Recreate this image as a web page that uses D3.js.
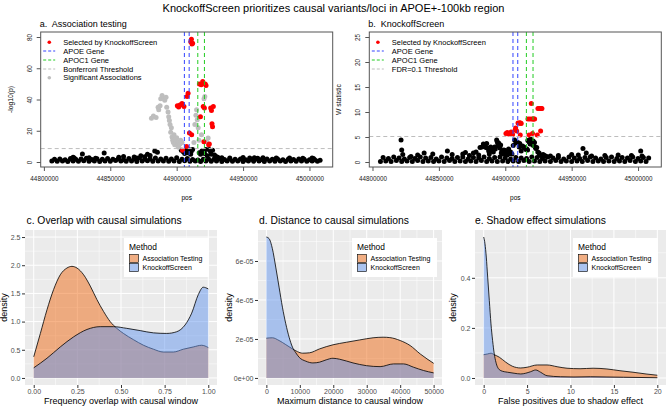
<!DOCTYPE html>
<html>
<head>
<meta charset="utf-8">
<script src="https://cdn.jsdelivr.net/npm/d3@7"></script>
<style>
  body { margin: 0; background: #fff; }
  svg { display: block; }
  svg text { font-family: "Liberation Sans", Arial, Helvetica, sans-serif; }
</style>
</head>
<body>
<svg width="667" height="406"></svg>
<script>
var svg = d3.select('svg');

// ---------- data: variants (pos in kb after 44,800,000) ----------
var bandPos = [6,8,10,12,14,16,18,20,22,24,26,28,30,32,34,36,38,40,42,44,46,48,50,52,54,56,58,60,62,64,66,68,70,72,74,76,78,80,82,84,86,88,90,92,94,96,98,100,102,104,106,108,110,112,114,116,118,120,122,124,126,128,130,132,134,136,138,140,142,144,146,148,150,152,154,156,158,160,162,164,166,168,170,172,174,176,178,180,182,184,186,188,190,192,194,196,198,200,202,204,206,208];
var bandLogp = [0.6,1.8,0.5,2.0,0.7,1.5,0.4,2.2,0.6,1.7,
  0.5,1.9,0.8,2.4,0.5,1.6,0.7,2.1,0.4,1.8,
  0.6,2.3,0.5,1.7,0.9,2.0,0.6,1.5,0.5,2.2,
  0.7,1.9,0.4,2.5,0.6,1.8,0.8,2.1,0.5,2.6,
  0.6,1.9,0.7,2.4,0.5,2.0,0.6,2.7,0.4,1.8,
  0.8,2.2,0.5,1.6,0.6,1.3,0.4,1.7,0.7,2.0,
  0.5,1.8,0.6,2.1,0.4,1.6,0.7,1.9,0.5,1.7,
  0.6,2.0,0.4,1.5,0.7,1.8,0.5,2.1,0.6,1.6,
  0.4,1.9,0.7,1.7,0.5,2.0,0.6,1.5,0.4,1.8,
  0.6,1.6,0.5,1.9,0.7,1.7,0.5,1.4,0.6,1.5,
  0.5,1.2];
var bandW = [0.1,0.9,0.2,0.7,0.1,1.0,0.3,0.8,0.1,0.6,
  0.2,0.9,0.1,0.7,0.3,1.0,0.1,0.8,0.2,0.9,
  0.1,0.6,0.2,1.0,0.1,0.8,0.3,0.7,0.1,0.9,
  0.2,1.0,0.1,0.6,0.2,0.9,0.1,0.8,0.3,1.0,
  0.1,0.7,0.2,0.9,0.1,1.0,0.2,0.8,0.1,0.6,
  0.2,0.9,0.1,0.8,0.3,0.7,0.1,1.0,0.2,0.9,
  0.1,0.7,0.2,1.0,0.1,0.8,0.3,0.9,0.1,0.6,
  0.2,1.0,0.1,0.8,0.2,0.7,0.1,0.9,0.3,1.0,
  0.1,0.8,0.2,0.6,0.1,0.9,0.2,1.0,0.1,0.7,
  0.2,0.9,0.1,0.8,0.3,1.0,0.1,0.7,0.2,0.9,
  0.1,0.8];

var varPos = [21.5,22.0,22.8,29.0,34.0,38.9,45.4,56.4,60.0,68.0,
  70.0,73.0,76.0,78.0,80.0,81.0,82.5,83.5,84.5,85.5,
  86.0,86.5,87.5,88.0,89.0,90.0,91.0,92.0,92.5,93.5,
  94.0,94.5,95.0,95.5,96.0,96.5,97.0,97.5,98.0,98.5,
  99.0,99.5,100.0,100.5,101.0,101.5,102.0,102.5,103.0,103.5,
  104.0,105.0,106.0,107.0,108.0,109.5,110.5,110.9,112.0,113.0,
  113.7,114.5,115.0,115.5,116.2,116.8,117.0,118.0,118.7,119.0,
  120.0,120.6,121.2,121.0,122.0,122.5,123.0,123.7,124.5,125.5,
  126.0,127.0,128.5,129.7,131.0,134.0,140.0,150.0,155.0,158.5,
  161.0,165.0,175.0,185.0,195.0,202.0,203.0];
var varLogp = [1.5,3.0,2.5,5.1,2.8,2.4,5.7,3.0,3.5,3.2,
  2.6,4.0,3.4,5.0,4.2,28.0,29.5,7.0,28.5,6.2,
  35.0,33.5,36.0,40.5,42.5,41.0,39.5,41.5,35.0,32.0,
  29.0,26.5,24.0,19.0,22.0,16.0,14.0,12.5,17.5,11.0,
  14.5,12.0,15.5,10.5,13.0,9.5,12.0,11.5,14.0,7.5,
  12.5,6.5,5.5,7.5,6.0,7.8,5.0,6.5,8.0,12.5,
  24.0,30.0,33.5,27.0,22.0,14.0,6.0,5.0,17.5,7.0,
  6.5,40.5,42.0,5.5,8.0,13.0,4.0,15.4,8.0,6.5,
  5.0,7.5,4.5,3.5,3.0,2.8,2.6,2.9,2.5,2.8,
  2.4,2.7,2.5,2.6,2.4,2.5,2.3];
var varW = [4.4,2.4,1.5,1.1,1.4,1.8,1.6,2.2,1.5,1.6,
  1.9,1.3,1.8,2.0,1.4,2.9,3.0,3.6,3.3,2.9,
  3.7,2.8,2.2,1.6,3.0,2.5,2.0,3.0,2.6,4.4,
  4.0,3.5,3.8,3.1,2.8,3.4,1.8,2.2,2.0,1.6,
  2.4,1.9,2.3,2.1,1.7,1.5,1.5,2.6,2.0,1.8,
  2.0,1.6,3.3,4.4,3.8,3.9,3.0,3.7,2.2,3.2,
  3.0,2.9,2.8,2.5,2.6,2.4,4.3,4.0,3.6,4.6,
  3.8,3.5,3.3,4.2,3.9,3.0,2.7,2.9,2.0,1.8,
  1.4,1.3,1.5,1.3,1.1,1.2,1.3,1.5,1.4,2.7,
  1.8,1.2,1.3,1.4,1.3,2.2,1.2];

// selected by KnockoffScreen
var selPos = [100.5,101.5,102.5,104.0,104.4,105.5,107.4,107.8,108.6,109.6,
  110.6,111.1,111.5,112.0,111.3,117.1,117.9,118.5,119.6,120.0,
  120.5,120.9,121.5,122.1,124.1,124.6,125.6,126.2,126.6,127.0,127.6];
var selLogp = [36.0,35.2,36.5,37.5,7.5,35.5,10.0,42.0,44.0,18.5,
  77.0,78.5,75.5,76.0,17.5,50.0,29.0,49.5,51.5,35.5,
  13.0,34.5,50.0,49.0,11.0,11.5,34.5,33.0,24.5,22.5,35.5];
var selW = [5.7,5.9,5.6,5.7,6.0,5.5,6.4,6.8,6.2,7.8,
  7.8,7.8,7.8,7.7,5.4,8.6,5.4,8.6,11.7,8.6,
  5.7,8.6,8.6,8.6,5.4,10.7,10.7,10.7,6.2,10.7,10.7];

var regionStart = 44800000;
var apoeGene = [44905800, 44909400];
var apoc1Gene = [44915900, 44920900];
var bonferroni = 8.6;
var fdrThreshold = 5.1;
var posTicks = [44800000, 44850000, 44900000, 44950000, 45000000];
var posLimits = [44797600, 45017500];
var logpTicks = [0, 20, 40, 60, 80];
var wTicks = [0, 5, 10, 15, 20, 25];
var legendA = ['Selected by KnockoffScreen', 'APOE Gene', 'APOC1 Gene', 'Bonferroni Threshold', 'Significant Associations'];
var legendB = ['Selected by KnockoffScreen', 'APOE Gene', 'APOC1 Gene', 'FDR=0.1 Threshold'];

// ---------- data: density curves ----------
var methods = ['Association Testing', 'KnockoffScreen'];
var overlapAssocX = [0,0.038,0.076,0.114,0.152,0.19,0.219,0.248,0.286,0.324,0.362,0.4,0.438,0.476,0.514,0.571,0.629,0.686,0.743,0.8,0.857,0.914,0.962,1.0];
var overlapAssocY = [0.375,0.79,1.21,1.57,1.83,1.95,1.98,1.95,1.83,1.63,1.39,1.18,1.0,0.88,0.79,0.68,0.58,0.51,0.46,0.46,0.51,0.55,0.58,0.54];
var overlapKnockX = [0,0.076,0.152,0.229,0.305,0.381,0.457,0.533,0.61,0.686,0.762,0.819,0.867,0.905,0.943,0.971,1.0];
var overlapKnockY = [0.18,0.35,0.55,0.73,0.86,0.91,0.91,0.88,0.84,0.80,0.79,0.82,0.94,1.15,1.48,1.61,1.58];

var distAssocX = [0,1800,3800,5800,7800,9300,10800,12900,15900,19900,23900,27900,31900,34900,36900,40000,43000,46000,48000,50000];
var distAssocY = [20.4e-6,20.6e-6,19.2e-6,17.1e-6,14.9e-6,13.5e-6,12.7e-6,12.9e-6,14.9e-6,17.0e-6,18.3e-6,19.5e-6,20.6e-6,20.9e-6,20.7e-6,19.2e-6,16.6e-6,12.3e-6,9.8e-6,7.5e-6];
var distKnockX = [0,800,1800,2800,3800,4800,5800,6800,7800,8800,9800,11800,13900,15900,17900,19900,21900,25900,29900,34000,38000,41000,44000,47000,50000];
var distKnockY = [72.3e-6,71.5e-6,66.3e-6,56.9e-6,46.6e-6,36.3e-6,27.8e-6,20.9e-6,15.8e-6,12.9e-6,10.6e-6,8.6e-6,7.7e-6,8.1e-6,9.3e-6,10.1e-6,9.6e-6,7.7e-6,6.3e-6,5.8e-6,7.2e-6,7.2e-6,5.5e-6,3.8e-6,2.6e-6];

var shadowAssocX = [0,0.46,0.84,1.22,1.8,2.55,3.3,4.27,5.0,6.17,7.3,8.46,9.6,11.1,12.6,14.2,15.7,17.2,18.7,20];
var shadowAssocY = [0.093,0.096,0.099,0.093,0.083,0.063,0.047,0.040,0.043,0.052,0.052,0.045,0.039,0.037,0.039,0.036,0.029,0.023,0.016,0.011];
var shadowKnockX = [0,0.15,0.3,0.46,0.65,0.84,1.03,1.22,1.41,1.6,2.0,2.74,3.5,4.27,4.84,5.4,6.0,6.55,7.3,8.84,10.4,12.3,14.2,16.1,20];
var shadowKnockY = [0.563,0.536,0.483,0.403,0.309,0.216,0.149,0.096,0.063,0.043,0.029,0.023,0.019,0.016,0.019,0.025,0.032,0.023,0.009,0.005,0.004,0.005,0.004,0.003,0.001];

var methodColors = ['#F06A14', '#6495ED'];

// ---------- title ----------
svg.append('text')
  .attr('x', 333.5).attr('y', 12)
  .attr('text-anchor', 'middle')
  .style('font-size', '11px')
  .text('KnockoffScreen prioritizes causal variants/loci in APOE+-100kb region');

// ---------- R style scatter panels ----------
var boxTop = 32, boxBottom = 167;

function buildPoints(valBand, valVar, valSel, threshold, showSignificant) {
  var pts = [];
  bandPos.forEach(function(p, i) {
    pts.push({pos: regionStart + p * 1000, v: valBand[i], color: 'black', order: 0});
  });
  varPos.forEach(function(p, i) {
    var sig = showSignificant && valVar[i] > threshold;
    pts.push({pos: regionStart + p * 1000, v: valVar[i], color: sig ? '#BEBEBE' : 'black', order: sig ? 1 : 0});
  });
  selPos.forEach(function(p, i) {
    pts.push({pos: regionStart + p * 1000, v: valSel[i], color: 'red', order: 2});
  });
  return pts.sort(function(a, b) { return a.order - b.order; });
}

function scatterPanel(o) {
  var x = d3.scaleLinear().domain(posLimits).range([o.left, o.left + 292]);
  var y = d3.scaleLinear().domain(o.yLimits).range([boxBottom, boxTop]);
  var g = svg.append('g');

  g.selectAll('circle')
    .data(o.points)
    .enter().append('circle')
      .attr('cx', function(d) { return x(d.pos); })
      .attr('cy', function(d) { return y(d.v); })
      .attr('r', 2.5)
      .attr('fill', function(d) { return d.color; });

  // gene boundaries
  var genes = [{b: apoeGene, c: '#3344FF'}, {b: apoc1Gene, c: '#22CC22'}];
  genes.forEach(function(gn) {
    gn.b.forEach(function(v) {
      g.append('line')
        .attr('x1', x(v)).attr('x2', x(v))
        .attr('y1', boxTop).attr('y2', boxBottom)
        .attr('stroke', gn.c).attr('stroke-width', 1)
        .attr('stroke-dasharray', '4,3');
    });
  });

  // threshold
  g.append('line')
    .attr('x1', o.left).attr('x2', o.left + 292)
    .attr('y1', y(o.threshold)).attr('y2', y(o.threshold))
    .attr('stroke', '#BDBDBD').attr('stroke-width', 1)
    .attr('stroke-dasharray', '4,3');

  g.append('rect')
    .attr('x', o.left).attr('y', boxTop)
    .attr('width', 292).attr('height', boxBottom - boxTop)
    .attr('fill', 'none').attr('stroke', '#555').attr('stroke-width', 1);

  var xAxis = g.append('g')
    .attr('transform', 'translate(0,' + boxBottom + ')')
    .call(d3.axisBottom(x).tickValues(posTicks).tickFormat(d3.format('d')).tickSize(4).tickPadding(6));
  xAxis.select('.domain').remove();
  xAxis.selectAll('text').style('font-size', '6.3px').attr('fill', '#222');
  xAxis.selectAll('line').attr('stroke', '#555');

  var yAxis = g.append('g')
    .attr('transform', 'translate(' + o.left + ',0)')
    .call(d3.axisLeft(y).tickValues(o.yTicks).tickSize(4));
  yAxis.select('.domain').remove();
  yAxis.selectAll('line').attr('stroke', '#555');
  yAxis.selectAll('text')
    .attr('x', 0).attr('dy', 0)
    .attr('text-anchor', 'middle')
    .attr('transform', 'translate(-9,0) rotate(-90)')
    .style('font-size', '6.3px').attr('fill', '#222');

  svg.append('text')
    .attr('x', o.left + 146).attr('y', 200)
    .attr('text-anchor', 'middle')
    .style('font-size', '6.5px')
    .text('pos');

  svg.append('text')
    .attr('transform', 'translate(' + (o.left - 28) + ',' + ((boxTop + boxBottom) / 2) + ') rotate(-90)')
    .attr('text-anchor', 'middle')
    .style('font-size', '6.8px')
    .text(o.yLabel);

  svg.append('text')
    .attr('x', o.left - 1).attr('y', 27)
    .style('font-size', '9px')
    .attr('xml:space', 'preserve')
    .text(o.title);

  // legend
  var rows = [42.3, 51, 60, 69, 77.7];
  o.legend.forEach(function(lab, i) {
    var ly = rows[i];
    if (i === 0 || i === 4) {
      g.append('circle')
        .attr('cx', o.left + 8.6).attr('cy', ly).attr('r', 1.8)
        .attr('fill', i === 0 ? 'red' : '#BEBEBE');
    } else {
      g.append('line')
        .attr('x1', o.left + 2.5).attr('x2', o.left + 14.5)
        .attr('y1', ly).attr('y2', ly)
        .attr('stroke', ['', '#3344FF', '#22CC22', '#BDBDBD'][i])
        .attr('stroke-dasharray', '3,2');
    }
    g.append('text')
      .attr('x', o.left + 22.5).attr('y', ly)
      .attr('dy', '0.35em')
      .style('font-size', '7.5px')
      .text(lab);
  });
}

scatterPanel({
  left: 40.7,
  yLimits: [-3.2, 83.2],
  yTicks: logpTicks,
  threshold: bonferroni,
  points: buildPoints(bandLogp, varLogp, selLogp, bonferroni, true),
  yLabel: '-log10(p)',
  title: 'a.  Association testing',
  legend: legendA
});

scatterPanel({
  left: 369.3,
  yLimits: [-1, 26],
  yTicks: wTicks,
  threshold: fdrThreshold,
  points: buildPoints(bandW, varW, selW, fdrThreshold, false),
  yLabel: 'W statistic',
  title: 'b.  KnockoffScreen',
  legend: legendB
});

// ---------- ggplot style density panels ----------
var panelTop = 230, panelBottom = 385;

function densityPanel(o) {
  var x = d3.scaleLinear().domain(o.xDomain).range([o.left, o.right]);
  var y = d3.scaleLinear().domain(o.yDomain).range([panelBottom, panelTop]);
  var g = svg.append('g');

  g.append('rect')
    .attr('x', o.left).attr('y', panelTop)
    .attr('width', o.right - o.left).attr('height', panelBottom - panelTop)
    .attr('fill', '#EBEBEB');

  g.selectAll('.xminor').data(o.xMinor).enter().append('line')
    .attr('x1', function(d) { return x(d); }).attr('x2', function(d) { return x(d); })
    .attr('y1', panelTop).attr('y2', panelBottom)
    .attr('stroke', '#fff').attr('stroke-width', 0.5);
  g.selectAll('.yminor').data(o.yMinor).enter().append('line')
    .attr('y1', function(d) { return y(d); }).attr('y2', function(d) { return y(d); })
    .attr('x1', o.left).attr('x2', o.right)
    .attr('stroke', '#fff').attr('stroke-width', 0.5);
  g.selectAll('.xmajor').data(o.xTicks).enter().append('line')
    .attr('x1', function(d) { return x(d); }).attr('x2', function(d) { return x(d); })
    .attr('y1', panelTop).attr('y2', panelBottom)
    .attr('stroke', '#fff').attr('stroke-width', 1);
  g.selectAll('.ymajor').data(o.yTicks).enter().append('line')
    .attr('y1', function(d) { return y(d); }).attr('y2', function(d) { return y(d); })
    .attr('x1', o.left).attr('x2', o.right)
    .attr('stroke', '#fff').attr('stroke-width', 1);

  o.series.forEach(function(s, k) {
    var pts = s.x.map(function(v, i) { return [v, s.y[i]]; });
    var area = d3.area()
      .x(function(d) { return x(d[0]); })
      .y0(y(0))
      .y1(function(d) { return y(d[1]); })
      .curve(d3.curveMonotoneX);
    var line = d3.line()
      .x(function(d) { return x(d[0]); })
      .y(function(d) { return y(d[1]); })
      .curve(d3.curveMonotoneX);
    g.append('path').attr('d', area(pts))
      .attr('fill', methodColors[k]).attr('fill-opacity', 0.5);
    g.append('path').attr('d', line(pts))
      .attr('fill', 'none').attr('stroke', '#000').attr('stroke-width', 0.8);
  });

  var xAxis = g.append('g')
    .attr('transform', 'translate(0,' + panelBottom + ')')
    .call(d3.axisBottom(x).tickValues(o.xTicks)
      .tickFormat(function(d, i) { return o.xLabels[i]; })
      .tickSize(3).tickPadding(1.5));
  xAxis.select('.domain').remove();
  xAxis.selectAll('line').attr('stroke', '#333');
  xAxis.selectAll('text').style('font-size', '7px').attr('fill', '#4D4D4D');

  var yAxis = g.append('g')
    .attr('transform', 'translate(' + o.left + ',0)')
    .call(d3.axisLeft(y).tickValues(o.yTicks)
      .tickFormat(function(d, i) { return o.yLabels[i]; })
      .tickSize(3).tickPadding(1.5));
  yAxis.select('.domain').remove();
  yAxis.selectAll('line').attr('stroke', '#333');
  yAxis.selectAll('text').style('font-size', '7px').attr('fill', '#4D4D4D');

  svg.append('text')
    .attr('x', (o.left + o.right) / 2).attr('y', 404)
    .attr('text-anchor', 'middle')
    .style('font-size', '9px')
    .text(o.xTitle);

  svg.append('text')
    .attr('transform', 'translate(' + o.yTitleX + ',' + ((panelTop + panelBottom) / 2) + ') rotate(-90)')
    .attr('text-anchor', 'middle')
    .style('font-size', '9px')
    .text('density');

  svg.append('text')
    .attr('x', o.titleX).attr('y', 223.5)
    .style('font-size', '10.3px')
    .text(o.title);

  // legend
  var lg = g.append('g').attr('transform', 'translate(' + o.legendX + ',238)');
  lg.append('rect').attr('width', 85).attr('height', 39).attr('fill', '#fff');
  lg.append('text').attr('x', 5).attr('y', 12).style('font-size', '8.4px').text('Method');
  methods.forEach(function(m, i) {
    lg.append('rect')
      .attr('x', 5).attr('y', 16 + i * 9)
      .attr('width', 10).attr('height', 9)
      .attr('fill', '#F2F2F2');
    lg.append('rect')
      .attr('x', 5.5).attr('y', 16.5 + i * 9)
      .attr('width', 9).attr('height', 8)
      .attr('fill', methodColors[i]).attr('fill-opacity', 0.5)
      .attr('stroke', '#000').attr('stroke-width', 0.6);
    lg.append('text')
      .attr('x', 18.5).attr('y', 20.5 + i * 9)
      .attr('dy', '0.35em')
      .style('font-size', '7px')
      .text(m);
  });
}

densityPanel({
  left: 25, right: 217,
  xDomain: [-0.05, 1.05], yDomain: [-0.125, 2.625],
  xTicks: [0, 0.25, 0.5, 0.75, 1], xLabels: ['0.00', '0.25', '0.50', '0.75', '1.00'],
  xMinor: [0.125, 0.375, 0.625, 0.875],
  yTicks: [0, 0.5, 1, 1.5, 2, 2.5], yLabels: ['0.0', '0.5', '1.0', '1.5', '2.0', '2.5'],
  yMinor: [0.25, 0.75, 1.25, 1.75, 2.25],
  series: [{x: overlapAssocX, y: overlapAssocY}, {x: overlapKnockX, y: overlapKnockY}],
  xTitle: 'Frequency overlap with causal window',
  yTitleX: 7, titleX: 26.5, legendX: 124,
  title: 'c. Overlap with causal simulations'
});

densityPanel({
  left: 258, right: 442,
  xDomain: [-2500, 52500], yDomain: [-3.62e-6, 75.9e-6],
  xTicks: [0, 10000, 20000, 30000, 40000, 50000], xLabels: ['0', '10000', '20000', '30000', '40000', '50000'],
  xMinor: [5000, 15000, 25000, 35000, 45000],
  yTicks: [0, 2e-5, 4e-5, 6e-5], yLabels: ['0e+00', '2e-05', '4e-05', '6e-05'],
  yMinor: [1e-5, 3e-5, 5e-5, 7e-5],
  series: [{x: distAssocX, y: distAssocY}, {x: distKnockX, y: distKnockY}],
  xTitle: 'Maximum distance to causal window',
  yTitleX: 232, titleX: 259, legendX: 352,
  title: 'd. Distance to causal simulations'
});

densityPanel({
  left: 475, right: 666,
  xDomain: [-1, 21], yDomain: [-0.028, 0.591],
  xTicks: [0, 5, 10, 15, 20], xLabels: ['0', '5', '10', '15', '20'],
  xMinor: [2.5, 7.5, 12.5, 17.5],
  yTicks: [0, 0.2, 0.4], yLabels: ['0.0', '0.2', '0.4'],
  yMinor: [0.1, 0.3, 0.5],
  series: [{x: shadowAssocX, y: shadowAssocY}, {x: shadowKnockX, y: shadowKnockY}],
  xTitle: 'False positives due to shadow effect',
  yTitleX: 456, titleX: 475, legendX: 573,
  title: 'e. Shadow effect simulations'
});
</script>
</body>
</html>
